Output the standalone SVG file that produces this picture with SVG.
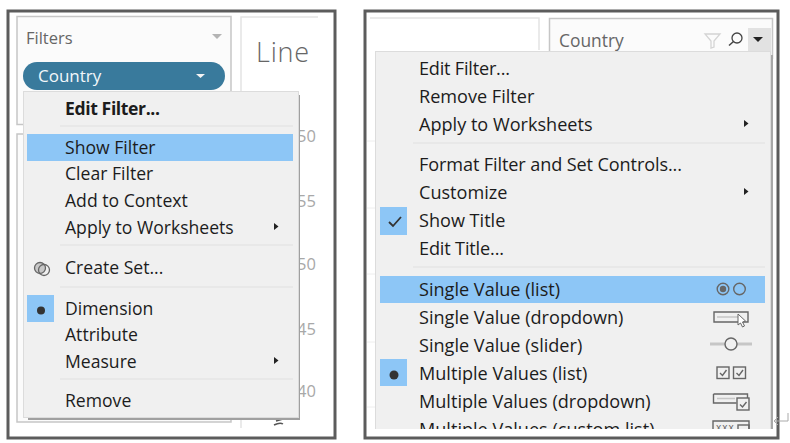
<svg xmlns="http://www.w3.org/2000/svg" width="790" height="443" viewBox="0 0 790 443">
<style>
text{font-family:"Open Sans","Noto Sans","Liberation Sans",sans-serif}
.m{font-size:17.6px;fill:#1c1c1c}
.r{font-size:18.1px;fill:#1c1c1c}
.n{font-size:16.5px;fill:#a8a8a8}
.frame{fill:#fff;stroke:#5c5c5c;stroke-width:3}
.panel{fill:#fbfbfb;stroke:#c6c6c6;stroke-width:1.5}
.menu{fill:#f0f0f0;stroke:#dcdcdc;stroke-width:1}
.shadow{fill:#a0a0a0}
.sep{stroke:#e0e0e0;stroke-width:1.2}
.faint{stroke:#eeeeee;stroke-width:1}
.hl{fill:#8dc6f6}
.arr{fill:#222}
.ic{fill:none;stroke:#666;stroke-width:1.4}
.icg{fill:none;stroke:#c6c6c6;stroke-width:3}
.dot{fill:#333}
</style>
<defs><clipPath id="rc"><rect x="364" y="12" width="414" height="417"/></clipPath></defs>
<g id="left-screenshot">
<rect class="frame" x="8" y="11" width="327" height="427"/>
<rect class="panel" x="17" y="16.500" width="214" height="108"/>
<rect class="panel" x="17" y="134" width="214" height="288"/>
<path d="M241 428V17H318" fill="none" stroke="#e4e4e4" stroke-width="1.500"/>
<text x="26" y="44" font-size="16.500" fill="#666">Filters</text>
<path d="M212 34h10l-5 5z" fill="#b4b4b4"/>
<text x="256" y="62" font-size="27" font-weight="300" fill="#666" letter-spacing="0.800">Line</text>
<rect x="23" y="62" width="202" height="28" rx="14" fill="#397a9c"/>
<text x="38" y="82" font-size="17" fill="#f2f7fa">Country</text>
<path d="M196 74h9l-4.500 4z" fill="#f4f4f4"/>
<text class="n" x="297" y="142">50</text>
<text class="n" x="297" y="207">55</text>
<text class="n" x="297" y="270">50</text>
<text class="n" x="297" y="335">45</text>
<text class="n" x="297" y="397">40</text>
<path d="M274 425q6-3 9-1M276 421l7-2" fill="none" stroke="#555" stroke-width="1.500"/>
</g>
<g id="left-menu">
<rect class="shadow" x="28" y="95" width="272" height="325"/>
<rect class="menu" x="23.500" y="91.500" width="275" height="326"/>
<text class="m" x="65" y="115" font-weight="700" textLength="95">Edit Filter...</text>
<line class="sep" x1="60" y1="126" x2="293" y2="126"/>
<rect class="hl" x="27" y="134" width="266" height="27"/>
<text class="m" x="65" y="154">Show Filter</text>
<text class="m" x="65" y="180">Clear Filter</text>
<text class="m" x="65" y="207">Add to Context</text>
<text class="m" x="65" y="234">Apply to Worksheets</text>
<path class="arr" d="M274 223l4.500 3.500l-4.500 3.500z"/>
<line class="sep" x1="60" y1="245" x2="293" y2="245"/>
<circle cx="40" cy="268" r="5.500" fill="#c8c8c8" stroke="#666" stroke-width="1.300"/>
<circle cx="44" cy="270" r="5.500" fill="none" stroke="#666" stroke-width="1.300"/>
<text class="m" x="65" y="274">Create Set...</text>
<line class="sep" x1="60" y1="287" x2="293" y2="287"/>
<rect class="hl" x="27" y="295" width="27" height="27"/>
<circle class="dot" cx="41" cy="310.500" r="4"/>
<text class="m" x="65" y="315">Dimension</text>
<text class="m" x="65" y="341">Attribute</text>
<text class="m" x="65" y="368">Measure</text>
<path class="arr" d="M274 357l4.500 3.500l-4.500 3.500z"/>
<line class="sep" x1="60" y1="379" x2="293" y2="379"/>
<text class="m" x="65" y="407">Remove</text>
</g>
<g id="right-screenshot">
<rect class="frame" x="365" y="11" width="413" height="427"/>
<path d="M370 18H539V50" fill="none" stroke="#e4e4e4" stroke-width="1.500"/>
<line class="faint" x1="367" y1="141" x2="375" y2="141"/>
<line class="faint" x1="367" y1="208" x2="375" y2="208"/>
<line class="faint" x1="367" y1="274" x2="375" y2="274"/>
<line class="faint" x1="367" y1="342" x2="375" y2="342"/>
<line class="faint" x1="367" y1="407" x2="375" y2="407"/>
<rect class="panel" x="549.500" y="18.500" width="223" height="40"/>
<text x="559" y="47" font-size="17.400" fill="#666">Country</text>
<path d="M705 34h15l-6 7v6l-3 1v-7z" fill="none" stroke="#d4d4d4" stroke-width="1.300"/>
<circle cx="737" cy="38" r="5" fill="none" stroke="#444" stroke-width="1.300"/>
<line x1="733.500" y1="41.500" x2="729" y2="45.500" stroke="#444" stroke-width="1.500"/>
<rect x="748" y="28" width="23" height="24" fill="#e2e2e2"/>
<path d="M753 37h10l-5 5z" fill="#222"/>
</g>
<g id="right-menu" clip-path="url(#rc)">
<rect x="770" y="55" width="3" height="380" fill="#a8a8a8"/>
<rect class="menu" x="375.500" y="51.500" width="395" height="390"/>
<text class="r" x="419" y="75" textLength="91">Edit Filter...</text>
<text class="r" x="419" y="103">Remove Filter</text>
<text class="r" x="419" y="131">Apply to Worksheets</text>
<path class="arr" d="M744 120l4.500 3.500l-4.500 3.500z"/>
<line class="sep" x1="413" y1="143" x2="765" y2="143"/>
<text class="r" x="419" y="171" textLength="263">Format Filter and Set Controls...</text>
<text class="r" x="419" y="199">Customize</text>
<path class="arr" d="M744 188l4.500 3.500l-4.500 3.500z"/>
<rect class="hl" x="380" y="207" width="27" height="28"/>
<path d="M389 222l4 4l8-9" fill="none" stroke="#333" stroke-width="1.800"/>
<text class="r" x="419" y="227">Show Title</text>
<text class="r" x="419" y="255" textLength="85">Edit Title...</text>
<line class="sep" x1="413" y1="267" x2="765" y2="267"/>
<rect class="hl" x="380" y="276" width="385" height="27"/>
<text class="r" x="419" y="296">Single Value (list)</text>
<circle cx="723" cy="289" r="5.800" class="ic"/><circle cx="723" cy="289" r="3.200" fill="#666"/>
<circle cx="739.500" cy="289" r="5.800" class="ic"/>
<text class="r" x="419" y="324">Single Value (dropdown)</text>
<path class="ic" d="M714 312h34v10h-9l-25 0z"/><line x1="717" y1="317" x2="738" y2="317" stroke="#c6c6c6" stroke-width="1.500"/>
<path d="M738 314l0 11l2.500-2l2 4l2-1l-2-4l3-1z" fill="#fff" stroke="#666"/>
<text class="r" x="419" y="352">Single Value (slider)</text>
<line class="icg" x1="710" y1="344" x2="752" y2="344"/><circle cx="731" cy="344" r="6" fill="#f0f0f0" stroke="#666" stroke-width="1.400"/>
<rect class="hl" x="380" y="359" width="27" height="27"/>
<circle class="dot" cx="394" cy="375" r="4.500"/>
<text class="r" x="419" y="380">Multiple Values (list)</text>
<rect class="ic" x="717" y="367" width="12" height="11.500"/><path class="ic" d="M720 373l2.500 2.500l4-5.500"/>
<rect class="ic" x="733.500" y="367" width="12" height="11.500"/><path class="ic" d="M736.500 373l2.500 2.500l4-5.500"/>
<text class="r" x="419" y="408">Multiple Values (dropdown)</text>
<path class="ic" d="M713.500 394h34v4M713.500 394v9h23"/><line x1="717" y1="398.500" x2="735" y2="398.500" stroke="#c6c6c6" stroke-width="1.500"/>
<rect class="ic" x="737" y="398" width="12" height="12"/><path class="ic" d="M740 404.500l2.500 2.500l4-5"/>
<text class="r" x="419" y="436">Multiple Values (custom list)</text>
<path class="ic" d="M713 432v-11h36v11"/>
<text x="716" y="431" font-size="10" fill="#666" letter-spacing="1">xxx</text>
<rect class="ic" x="738" y="425" width="11" height="10"/>
</g>
<path d="M788 413v8h-14M778 417l-4 4l4 4" fill="none" stroke="#aaa" stroke-width="1"/>
</svg>
